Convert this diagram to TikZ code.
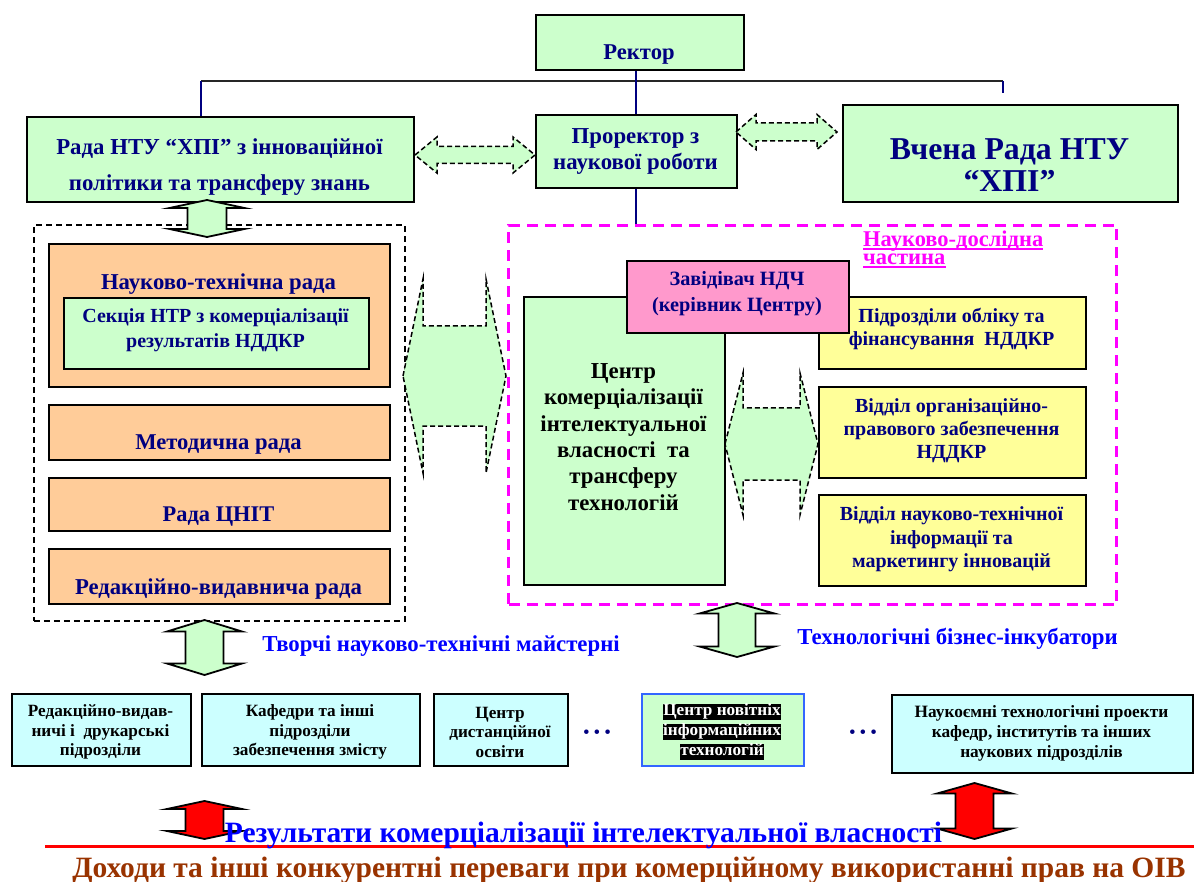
\documentclass[tikz,border=0pt]{standalone}
\usepackage{fontspec}
\setmainfont{Liberation Serif}
\usetikzlibrary{positioning}
\definecolor{boxgreen}{HTML}{CCFFCC}
\definecolor{boxorange}{HTML}{FFCC99}
\definecolor{boxpink}{HTML}{FF99CC}
\definecolor{boxyellow}{HTML}{FFFF99}
\definecolor{boxcyan}{HTML}{CCFFFF}
\definecolor{navytext}{HTML}{000080}
\definecolor{labelblue}{HTML}{0000FF}
\definecolor{incomebrown}{HTML}{993300}
\definecolor{ndchmagenta}{HTML}{FF00FF}
\definecolor{frameblue}{HTML}{3366FF}
\tikzstyle{org_box} = [
    draw=black,
    line width=2pt,
    inner sep=0pt,
    anchor=north west
]
\tikzstyle{green_box} = [org_box, fill=boxgreen]
\tikzstyle{orange_box} = [org_box, fill=boxorange]
\tikzstyle{pink_box} = [org_box, fill=boxpink]
\tikzstyle{yellow_box} = [org_box, fill=boxyellow]
\tikzstyle{cyan_box} = [org_box, fill=boxcyan]
\tikzstyle{navy_text} = [
    text=navytext,
    align=center,
    inner sep=0pt
]
\tikzstyle{black_text} = [
    text=black,
    align=center,
    inner sep=0pt
]
\tikzstyle{dash_arrow} = [
    draw=black,
    fill=boxgreen,
    line width=1.5pt,
    dash pattern=on 5pt off 3pt
]
\tikzstyle{solid_arrow} = [draw=black, fill=boxgreen, line width=1.8pt]
\tikzstyle{red_arrow} = [draw=black, fill=red, line width=1.8pt]
% horizontal double block arrow: x1, x2, y, shaft half, head half, head length
\newcommand{\hblock}[7][]{%
    \draw[#1] (#2,#4) -- ({#2+#7},{#4-#6}) -- ({#2+#7},{#4-#5})
        -- ({#3-#7},{#4-#5}) -- ({#3-#7},{#4-#6}) -- (#3,#4)
        -- ({#3-#7},{#4+#6}) -- ({#3-#7},{#4+#5}) -- ({#2+#7},{#4+#5})
        -- ({#2+#7},{#4+#6}) -- cycle;}
% vertical double block arrow: x, y1, y2, shaft half, head half, head length
\newcommand{\vblock}[7][]{%
    \draw[#1] (#2,#3) -- ({#2+#6},{#3+#7}) -- ({#2+#5},{#3+#7})
        -- ({#2+#5},{#4-#7}) -- ({#2+#6},{#4-#7}) -- (#2,#4)
        -- ({#2-#6},{#4-#7}) -- ({#2-#5},{#4-#7}) -- ({#2-#5},{#3+#7})
        -- ({#2-#6},{#3+#7}) -- cycle;}
\newcommand{\hlblack}[1]{\colorbox{black}{\rule[-4.5pt]{0pt}{15.5pt}#1}}
\newcommand{\tripledot}{\fontsize{19}{19}\selectfont •\hspace{4pt}•\hspace{4pt}•}
\setlength{\fboxsep}{0pt}

\begin{document}
\begin{tikzpicture}[x=1pt, y=-1pt]
\useasboundingbox (0,0) rectangle (1194,882);

% top level
\node [green_box, minimum width=208, minimum height=55] (rektor) at (535,14) {};
\node [navy_text, font=\bfseries\fontsize{22.6}{26}\selectfont] (rektor_t) at (639,55) {Ректор};
\node [green_box, minimum width=387, minimum height=85] (rada) at (26,116) {};
\node [navy_text, font=\bfseries\fontsize{22.8}{36}\selectfont] (rada_t) at (219.5,167)
    {Рада НТУ “ХПІ” з інноваційної\\політики та трансферу знань};
\node [green_box, minimum width=201, minimum height=73] (prorektor) at (535,114) {};
\node [navy_text, font=\bfseries\fontsize{22.8}{26}\selectfont] (prorektor_t) at (635.5,151)
    {Проректор з\\наукової роботи};
\node [green_box, minimum width=335, minimum height=97] (vchena) at (842,104) {};
\node [navy_text, font=\bfseries\fontsize{31.8}{32}\selectfont] (vchena_t) at (1009.5,165)
    {Вчена Рада НТУ\\“ХПІ”};

\coordinate (tree_l) at (201,81);
\coordinate (tree_r) at (1003,81);
\coordinate (tree_stub) at (1003,93);
\draw [line width=1.3pt, black!85] (tree_l) -- (tree_r);
\draw [line width=1.3pt, navytext] (tree_l) -- (tree_l |- rada.north);
\draw [line width=1.3pt, navytext] (tree_r) -- (tree_stub);
\draw [line width=1.3pt, navytext] (rektor.south -| 636,0) -- (prorektor.north -| 636,0);

% left panel
\node [draw=black, line width=1.8pt, dash pattern=on 6pt off 4pt, inner sep=0pt,
    anchor=north west, minimum width=371, minimum height=396] (councils) at (33,224) {};
\node [orange_box, minimum width=341, minimum height=143] (ntr) at (48,243) {};
\node [navy_text, font=\bfseries\fontsize{22.7}{26}\selectfont] (ntr_t) at (218.5,284)
    {Науково-технічна рада};
\node [green_box, minimum width=305, minimum height=71] (sekcia) at (63,297) {};
\node [navy_text, font=\bfseries\fontsize{20}{25}\selectfont] (sekcia_t) at (215.5,330)
    {Секція НТР з комерціалізації\\результатів НДДКР};
\node [orange_box, minimum width=341, minimum height=55] (metod) at (48,404) {};
\node [navy_text, font=\bfseries\fontsize{22.6}{26}\selectfont] (metod_t) at (218.5,445) {Методична рада};
\node [orange_box, minimum width=341, minimum height=53] (cnit) at (48,477) {};
\node [navy_text, font=\bfseries\fontsize{22.4}{26}\selectfont] (cnit_t) at (218.5,517) {Рада ЦНІТ};
\node [orange_box, minimum width=341, minimum height=55] (redrada) at (48,548) {};
\node [navy_text, font=\bfseries\fontsize{22.7}{26}\selectfont] (redrada_t) at (218.5,589)
    {Редакційно-видавнича рада};

% research part
\node [draw=ndchmagenta, line width=3pt, dash pattern=on 11pt off 7pt, inner sep=0pt,
    anchor=north west, minimum width=608, minimum height=379] (ndch) at (507,224) {};
\draw [line width=1.3pt, navytext] (prorektor.south -| 636,0) -- (ndch.north -| 636,0);
\node [text=ndchmagenta, font=\bfseries\fontsize{22.5}{17}\selectfont, inner sep=0pt,
    anchor=base west] (ndch_l1) at (863,247) {Науково-дослідна};
\node [text=ndchmagenta, font=\bfseries\fontsize{22.5}{17}\selectfont, inner sep=0pt,
    anchor=base west] (ndch_l2) at (863,265) {частина};
\draw [ndchmagenta, line width=2pt] ([yshift=-2.5pt]ndch_l1.base west) -- ([yshift=-2.5pt]ndch_l1.base east);
\draw [ndchmagenta, line width=2pt] ([yshift=-2.5pt]ndch_l2.base west) -- ([yshift=-2.5pt]ndch_l2.base east);

\node [green_box, minimum width=201, minimum height=288] (centr) at (523,296) {};
\node [black_text, font=\bfseries\fontsize{22.8}{26.4}\selectfont] (centr_t) at (623.5,437)
    {Центр\\комерціалізації\\інтелектуальної\\власності~ та\\трансферу\\технологій};
\node [yellow_box, minimum width=267, minimum height=72] (oblik) at (818,296) {};
\node [navy_text, font=\bfseries\fontsize{20}{23}\selectfont] (oblik_t) at (951.5,329.5)
    {Підрозділи обліку та\\фінансування~ НДДКР};
\node [yellow_box, minimum width=267, minimum height=91] (pravo) at (818,386) {};
\node [navy_text, font=\bfseries\fontsize{20}{23}\selectfont] (pravo_t) at (951.5,431)
    {Відділ організаційно-\\правового забезпечення\\НДДКР};
\node [yellow_box, minimum width=267, minimum height=91] (info) at (818,494) {};
\node [navy_text, font=\bfseries\fontsize{20}{23.5}\selectfont] (info_t) at (951.5,539.5)
    {Відділ науково-технічної\\інформації та\\маркетингу інновацій};
\node [pink_box, minimum width=222, minimum height=72] (zav) at (626,260) {};
\node [navy_text, font=\bfseries\fontsize{20.3}{26}\selectfont] (zav_t) at (737,294)
    {Завідівач НДЧ\\(керівник Центру)};

% block arrows
\hblock[dash_arrow]{415}{535}{155}{8.5}{18}{22}
\hblock[dash_arrow]{736}{837}{132}{9}{17.5}{20}
\hblock[dash_arrow]{403}{506}{376}{50}{97}{20}
\hblock[dash_arrow]{725}{818}{444}{36}{71}{18}
\vblock[solid_arrow]{207}{200}{237}{19.5}{37.5}{8}
\vblock[solid_arrow]{737}{603}{657}{18.5}{37.5}{10.5}
\vblock[solid_arrow]{204.5}{620}{675}{19}{37.5}{11.5}

\node [text=labelblue, font=\bfseries\fontsize{22.8}{26}\selectfont, inner sep=0pt] (tvorchi) at (441,646)
    {Творчі науково-технічні майстерні};
\node [text=labelblue, font=\bfseries\fontsize{22.8}{26}\selectfont, inner sep=0pt] (inkub) at (957.5,639)
    {Технологічні бізнес-інкубатори};

% bottom row
\node [cyan_box, minimum width=179, minimum height=72] (vydav) at (11,693) {};
\node [black_text, font=\bfseries\fontsize{17.2}{19.5}\selectfont] (vydav_t) at (100.5,732)
    {Редакційно-видав-\\ничі і~ друкарські\\підрозділи};
\node [cyan_box, minimum width=218, minimum height=72] (kafedry) at (201,693) {};
\node [black_text, font=\bfseries\fontsize{17.2}{19.5}\selectfont] (kafedry_t) at (310,732)
    {Кафедри та інші\\підрозділи\\забезпечення змісту};
\node [cyan_box, minimum width=134, minimum height=72] (dist) at (433,693) {};
\node [black_text, font=\bfseries\fontsize{17.2}{19.5}\selectfont] (dist_t) at (500,732)
    {Центр\\дистанційної\\освіти};
\node [text=navytext, inner sep=0pt] (dots_a) at (597,734) {\tripledot};
\node [org_box, draw=frameblue, fill=boxgreen, minimum width=162, minimum height=72] (cnit_c) at (641,693) {};
\node [text=white, align=center, inner sep=0pt, font=\bfseries\fontsize{17.2}{20}\selectfont] (cnit_ct) at (722,732)
    {\hlblack{Центр новітніх}\\\hlblack{інформаційних}\\\hlblack{технологій}};
\node [text=navytext, inner sep=0pt] (dots_b) at (863,734) {\tripledot};
\node [cyan_box, minimum width=301, minimum height=78] (proekty) at (891,694) {};
\node [black_text, font=\bfseries\fontsize{17.3}{20}\selectfont] (proekty_t) at (1041.5,733)
    {Наукоємні технологічні проекти\\кафедр, інститутів та інших\\наукових підрозділів};

% results
\vblock[red_arrow]{204.5}{801}{839}{19}{37.5}{8}
\vblock[red_arrow]{974.5}{783}{839}{19}{37.5}{10.5}
\coordinate (rule_l) at (45,846);
\coordinate (rule_r) at (1194,846);
\draw [red, line width=3pt] (rule_l) -- (rule_r);
\node [text=labelblue, font=\bfseries\fontsize{29.5}{32}\selectfont, inner sep=0pt] (results) at (583.5,835)
    {Результати комерціалізації інтелектуальної власності};
\node [text=incomebrown, font=\bfseries\fontsize{29.5}{32}\selectfont, inner sep=0pt] (income) at (629,870)
    {Доходи та інші конкурентні переваги при комерційному використанні прав на ОІВ};
\end{tikzpicture}
\end{document}
